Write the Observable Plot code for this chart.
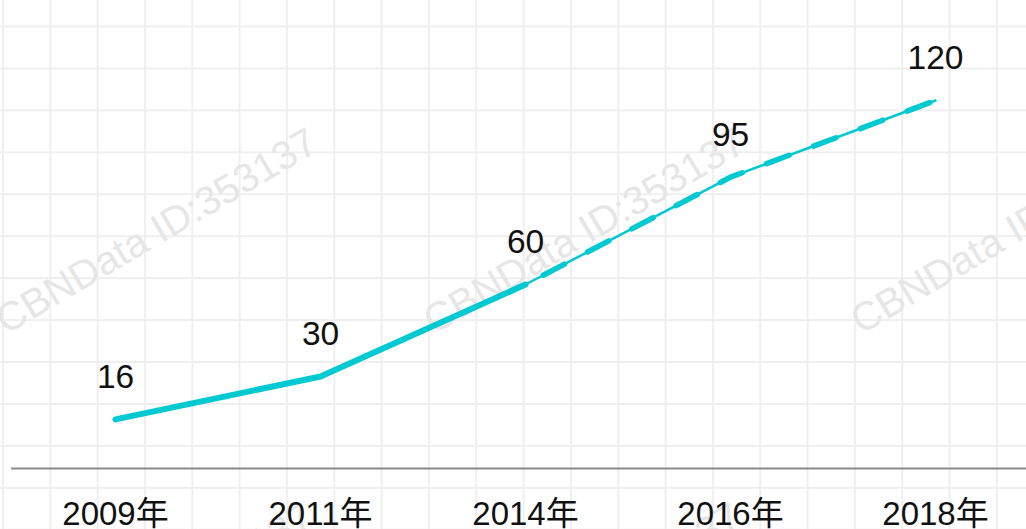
<!DOCTYPE html>
<html>
<head>
<meta charset="utf-8">
<script src="https://cdn.jsdelivr.net/npm/d3@7"></script>
<script src="https://cdn.jsdelivr.net/npm/@observablehq/plot@0.6"></script>
<style>
  html, body { margin: 0; padding: 0; background: #fff; }
  #wrap {
    position: relative; width: 1026px; height: 529px; overflow: hidden;
    background-color: #fff;
    background-image:
      linear-gradient(to right, #efefef 0, #efefef 1.5px, transparent 1.5px),
      linear-gradient(to bottom, #efefef 0, #efefef 1.5px, transparent 1.5px);
    background-size: 47.33px 41.95px;
    background-position: 2px 25.5px;
  }
  #wm { position: absolute; left: 0; top: 0; }
  #chart { position: absolute; left: 0; top: 0; }
</style>
</head>
<body>
<div id="wrap">
  <svg id="wm" width="1026" height="529"></svg>
  <div id="chart"></div>
</div>
<script>
const years = ["2009年", "2011年", "2014年", "2016年", "2018年"];
const values = [16, 30, 60, 95, 120];
const forecastFrom = 2; // index where the dashed part begins (2014年)

const watermarkText = "CBNData ID:353137";
const watermarkStarts = [[6, 335], [434, 335], [861, 335], [2, 710], [430, 710], [857, 710], [843, -2]];

const data = years.map((year, i) => ({year, value: values[i], i}));
const actual = data.filter(d => d.i <= forecastFrom);
const forecast = data.filter(d => d.i >= forecastFrom);

const color = "#00c9d1";
const font = "'Liberation Sans', Arial, 'Noto Sans CJK SC', sans-serif";

// watermark
const wm = d3.select("#wm");
for (const [x, y] of watermarkStarts) {
  wm.append("text")
    .attr("transform", `translate(${x},${y}) rotate(-30.5)`)
    .attr("font-family", font)
    .attr("font-size", 40)
    .attr("fill", "#e6e6e6")
    .text(watermarkText);
}

const chart = Plot.plot({
  width: 1026,
  height: 529,
  marginLeft: 11,
  marginRight: 0,
  marginTop: 8,
  marginBottom: 61,
  style: {background: "transparent", fontFamily: font, overflow: "visible"},
  x: {type: "point", domain: years, padding: 0.47, align: 0.534, axis: null, label: null},
  y: {domain: [0, 150], axis: null, label: null},
  marks: [
    Plot.ruleY([0], {stroke: "#8a8a8a", strokeWidth: 2}),
    Plot.line(data, {x: "year", y: "value", stroke: color, strokeWidth: 2.5}),
    Plot.line(actual, {x: "year", y: "value", stroke: color, strokeWidth: 6, strokeLinecap: "round", strokeLinejoin: "round"}),
    Plot.line(forecast, {x: "year", y: "value", stroke: color, strokeWidth: 5.5, strokeDasharray: "24,26", strokeDashoffset: -20, strokeLinecap: "round"}),
    Plot.text(data, {x: "year", y: "value", text: d => String(d.value), dy: -42, fontSize: 33.5, fill: "#111"}),
    Plot.axisX({tickSize: 0, tickPadding: 33, fontSize: 33, fill: "#111", label: null})
  ]
});
document.getElementById("chart").appendChild(chart);
</script>
</body>
</html>
